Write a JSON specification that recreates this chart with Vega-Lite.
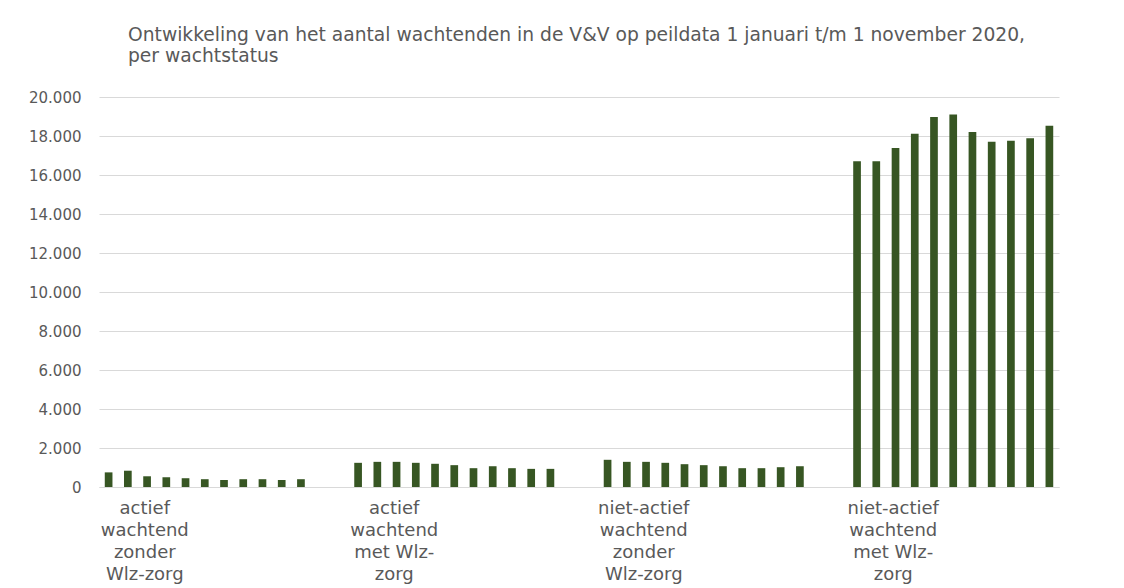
{
  "$schema": "https://vega.github.io/schema/vega-lite/v6.json",
  "width": 960,
  "height": 390,
  "autosize": {"type": "none"},
  "padding": {"left": 99, "top": 97, "right": 65, "bottom": 101},
  "background": "white",
  "title": {
    "text": ["Ontwikkeling van het aantal wachtenden in de V&V op peildata 1 januari t/m 1 november 2020,", "per wachtstatus"],
    "anchor": "start",
    "frame": "group",
    "dx": 29,
    "offset": 24,
    "font": "DejaVu Sans",
    "fontSize": 18.7,
    "fontWeight": "normal",
    "color": "#595959",
    "lineHeight": 21.5
  },
  "data": {
    "values": [
      {"status": "actief wachtend zonder Wlz-zorg", "peildatum": "2020-01-01", "aantal": 750},
      {"status": "actief wachtend zonder Wlz-zorg", "peildatum": "2020-02-01", "aantal": 835},
      {"status": "actief wachtend zonder Wlz-zorg", "peildatum": "2020-03-01", "aantal": 550},
      {"status": "actief wachtend zonder Wlz-zorg", "peildatum": "2020-04-01", "aantal": 500},
      {"status": "actief wachtend zonder Wlz-zorg", "peildatum": "2020-05-01", "aantal": 450},
      {"status": "actief wachtend zonder Wlz-zorg", "peildatum": "2020-06-01", "aantal": 400},
      {"status": "actief wachtend zonder Wlz-zorg", "peildatum": "2020-07-01", "aantal": 360},
      {"status": "actief wachtend zonder Wlz-zorg", "peildatum": "2020-08-01", "aantal": 400},
      {"status": "actief wachtend zonder Wlz-zorg", "peildatum": "2020-09-01", "aantal": 400},
      {"status": "actief wachtend zonder Wlz-zorg", "peildatum": "2020-10-01", "aantal": 360},
      {"status": "actief wachtend zonder Wlz-zorg", "peildatum": "2020-11-01", "aantal": 400},
      {"status": "actief wachtend met Wlz-zorg", "peildatum": "2020-01-01", "aantal": 1240},
      {"status": "actief wachtend met Wlz-zorg", "peildatum": "2020-02-01", "aantal": 1290},
      {"status": "actief wachtend met Wlz-zorg", "peildatum": "2020-03-01", "aantal": 1290},
      {"status": "actief wachtend met Wlz-zorg", "peildatum": "2020-04-01", "aantal": 1240},
      {"status": "actief wachtend met Wlz-zorg", "peildatum": "2020-05-01", "aantal": 1190},
      {"status": "actief wachtend met Wlz-zorg", "peildatum": "2020-06-01", "aantal": 1120},
      {"status": "actief wachtend met Wlz-zorg", "peildatum": "2020-07-01", "aantal": 965},
      {"status": "actief wachtend met Wlz-zorg", "peildatum": "2020-08-01", "aantal": 1065},
      {"status": "actief wachtend met Wlz-zorg", "peildatum": "2020-09-01", "aantal": 965},
      {"status": "actief wachtend met Wlz-zorg", "peildatum": "2020-10-01", "aantal": 930},
      {"status": "actief wachtend met Wlz-zorg", "peildatum": "2020-11-01", "aantal": 930},
      {"status": "niet-actief wachtend zonder Wlz-zorg", "peildatum": "2020-01-01", "aantal": 1395},
      {"status": "niet-actief wachtend zonder Wlz-zorg", "peildatum": "2020-02-01", "aantal": 1290},
      {"status": "niet-actief wachtend zonder Wlz-zorg", "peildatum": "2020-03-01", "aantal": 1290},
      {"status": "niet-actief wachtend zonder Wlz-zorg", "peildatum": "2020-04-01", "aantal": 1240},
      {"status": "niet-actief wachtend zonder Wlz-zorg", "peildatum": "2020-05-01", "aantal": 1170},
      {"status": "niet-actief wachtend zonder Wlz-zorg", "peildatum": "2020-06-01", "aantal": 1120},
      {"status": "niet-actief wachtend zonder Wlz-zorg", "peildatum": "2020-07-01", "aantal": 1065},
      {"status": "niet-actief wachtend zonder Wlz-zorg", "peildatum": "2020-08-01", "aantal": 965},
      {"status": "niet-actief wachtend zonder Wlz-zorg", "peildatum": "2020-09-01", "aantal": 965},
      {"status": "niet-actief wachtend zonder Wlz-zorg", "peildatum": "2020-10-01", "aantal": 1015},
      {"status": "niet-actief wachtend zonder Wlz-zorg", "peildatum": "2020-11-01", "aantal": 1065},
      {"status": "niet-actief wachtend met Wlz-zorg", "peildatum": "2020-01-01", "aantal": 16710},
      {"status": "niet-actief wachtend met Wlz-zorg", "peildatum": "2020-02-01", "aantal": 16710},
      {"status": "niet-actief wachtend met Wlz-zorg", "peildatum": "2020-03-01", "aantal": 17390},
      {"status": "niet-actief wachtend met Wlz-zorg", "peildatum": "2020-04-01", "aantal": 18120},
      {"status": "niet-actief wachtend met Wlz-zorg", "peildatum": "2020-05-01", "aantal": 18970},
      {"status": "niet-actief wachtend met Wlz-zorg", "peildatum": "2020-06-01", "aantal": 19100},
      {"status": "niet-actief wachtend met Wlz-zorg", "peildatum": "2020-07-01", "aantal": 18200},
      {"status": "niet-actief wachtend met Wlz-zorg", "peildatum": "2020-08-01", "aantal": 17710},
      {"status": "niet-actief wachtend met Wlz-zorg", "peildatum": "2020-09-01", "aantal": 17760},
      {"status": "niet-actief wachtend met Wlz-zorg", "peildatum": "2020-10-01", "aantal": 17880},
      {"status": "niet-actief wachtend met Wlz-zorg", "peildatum": "2020-11-01", "aantal": 18530}
    ]
  },
  "mark": {"type": "bar", "color": "#375623"},
  "encoding": {
    "x": {
      "field": "status",
      "type": "nominal",
      "sort": null,
      "scale": {"paddingInner": 0.152, "paddingOuter": 0},
      "axis": {
        "title": null,
        "labelAngle": 0,
        "ticks": false,
        "domain": true,
        "domainColor": "#d9d9d9",
        "domainWidth": 1,
        "labelOffset": -60,
        "labelPadding": 12,
        "labelFont": "DejaVu Sans",
        "labelFontSize": 18,
        "labelColor": "#595959",
        "labelLineHeight": 22,
        "labelBaseline": "top",
        "labelExpr": "datum.label == 'actief wachtend zonder Wlz-zorg' ? ['actief', 'wachtend', 'zonder', 'Wlz-zorg'] : datum.label == 'actief wachtend met Wlz-zorg' ? ['actief', 'wachtend', 'met Wlz-', 'zorg'] : datum.label == 'niet-actief wachtend zonder Wlz-zorg' ? ['niet-actief', 'wachtend', 'zonder', 'Wlz-zorg'] : ['niet-actief', 'wachtend', 'met Wlz-', 'zorg']"
      }
    },
    "xOffset": {
      "field": "peildatum",
      "type": "nominal",
      "scale": {"paddingInner": 0.6, "paddingOuter": 0.3}
    },
    "y": {
      "field": "aantal",
      "type": "quantitative",
      "scale": {"domain": [0, 20000]},
      "axis": {
        "title": null,
        "values": [0, 2000, 4000, 6000, 8000, 10000, 12000, 14000, 16000, 18000, 20000],
        "domain": false,
        "ticks": false,
        "grid": true,
        "gridColor": "#d9d9d9",
        "gridWidth": 1,
        "labelPadding": 18,
        "labelFont": "DejaVu Sans",
        "labelFontSize": 15,
        "labelColor": "#595959",
        "labelExpr": "replace(format(datum.value, ','), /,/g, '.')"
      }
    }
  },
  "config": {
    "view": {"stroke": null}
  }
}
